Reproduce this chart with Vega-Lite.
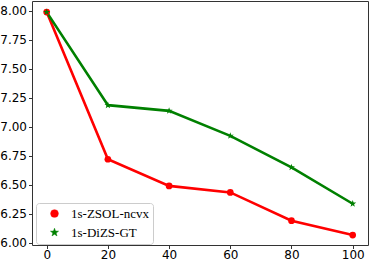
{
  "$schema": "https://vega.github.io/schema/vega-lite/v6.json",
  "width": 336,
  "height": 244,
  "autosize": "none",
  "padding": {"left": 32, "top": 1, "right": 2, "bottom": 16},
  "background": "white",
  "config": {
    "view": {"stroke": "#333333", "strokeWidth": 1},
    "axis": {"grid": false, "domain": false, "tickColor": "#333333", "tickSize": 3.5, "labelFont": "DejaVu Sans", "labelFontSize": 12, "labelColor": "#000000", "title": null}
  },
  "data": {
    "values": [
      {"x": 0, "value": 7.99, "series": "1s-ZSOL-ncvx"},
      {"x": 20, "value": 6.72, "series": "1s-ZSOL-ncvx"},
      {"x": 40, "value": 6.49, "series": "1s-ZSOL-ncvx"},
      {"x": 60, "value": 6.434, "series": "1s-ZSOL-ncvx"},
      {"x": 80, "value": 6.19, "series": "1s-ZSOL-ncvx"},
      {"x": 100, "value": 6.066, "series": "1s-ZSOL-ncvx"},
      {"x": 0, "value": 7.99, "series": "1s-DiZS-GT"},
      {"x": 20, "value": 7.187, "series": "1s-DiZS-GT"},
      {"x": 40, "value": 7.138, "series": "1s-DiZS-GT"},
      {"x": 60, "value": 6.922, "series": "1s-DiZS-GT"},
      {"x": 80, "value": 6.65, "series": "1s-DiZS-GT"},
      {"x": 100, "value": 6.336, "series": "1s-DiZS-GT"}
    ]
  },
  "encoding": {
    "x": {"field": "x", "type": "quantitative", "scale": {"domain": [-4.8, 105], "nice": false, "zero": false}, "axis": {"values": [0, 20, 40, 60, 80, 100], "labelPadding": 1}},
    "y": {"field": "value", "type": "quantitative", "scale": {"domain": [5.98, 8.086], "nice": false, "zero": false}, "axis": {"values": [6, 6.25, 6.5, 6.75, 7, 7.25, 7.5, 7.75, 8], "format": ".2f", "labelPadding": 2}},
    "color": {
      "field": "series", "type": "nominal",
      "scale": {"domain": ["1s-ZSOL-ncvx", "1s-DiZS-GT"], "range": ["#ff0000", "#008000"]},
      "legend": {
        "title": null,
        "orient": "none",
        "legendX": 4,
        "legendY": 202,
        "padding": 4,
        "strokeColor": "#cccccc",
        "fillColor": "white",
        "cornerRadius": 3,
        "labelFont": "Liberation Serif",
        "labelFontSize": 13,
        "labelColor": "#000000",
        "symbolSize": 60,
        "symbolOffset": 8,
        "rowPadding": 5,
        "labelOffset": 10,
        "symbolStrokeWidth": 0.5
      }
    }
  },
  "layer": [
    {
      "mark": {"type": "line", "strokeWidth": 2.6}
    },
    {
      "mark": {"type": "point", "filled": true, "opacity": 1, "size": 45},
      "encoding": {
        "shape": {"field": "series", "type": "nominal", "scale": {"domain": ["1s-ZSOL-ncvx", "1s-DiZS-GT"], "range": ["circle", "M0,-1.1L0.259,-0.356L1.046,-0.34L0.418,0.136L0.647,0.89L0,0.44L-0.647,0.89L-0.418,0.136L-1.046,-0.34L-0.259,-0.356Z"]}, "legend": null}
      }
    }
  ]
}
